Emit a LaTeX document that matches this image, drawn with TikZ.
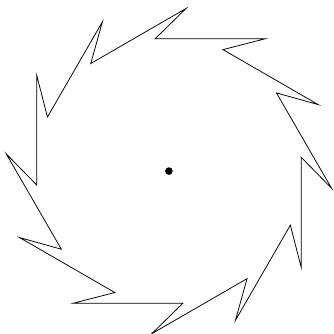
\documentclass[tikz,border=0pt]{standalone}
\usepackage{tikz}

\begin{document}
\begin{tikzpicture}[
        blade/.style ={draw=black, line width=0.4pt, line join=miter},
        hub/.style   ={fill=black},
    ]

\useasboundingbox (-3.10,-2.99) rectangle (3.03,3.14);

% Points

\foreach \i in {0,...,11} {
    \coordinate (out\i) at ({30*\i-6}:3);
    \coordinate (in\i)  at ({30*\i+6}:2.44);
}
\coordinate (centre) at (0,0);


% Outline
\draw[blade] (out0) foreach \i in {1,...,11} { -- (in\i) -- (out\i) } -- (in0) -- cycle;

% Centre
\fill[hub] (centre) circle (2pt);

\end{tikzpicture}
\end{document}
